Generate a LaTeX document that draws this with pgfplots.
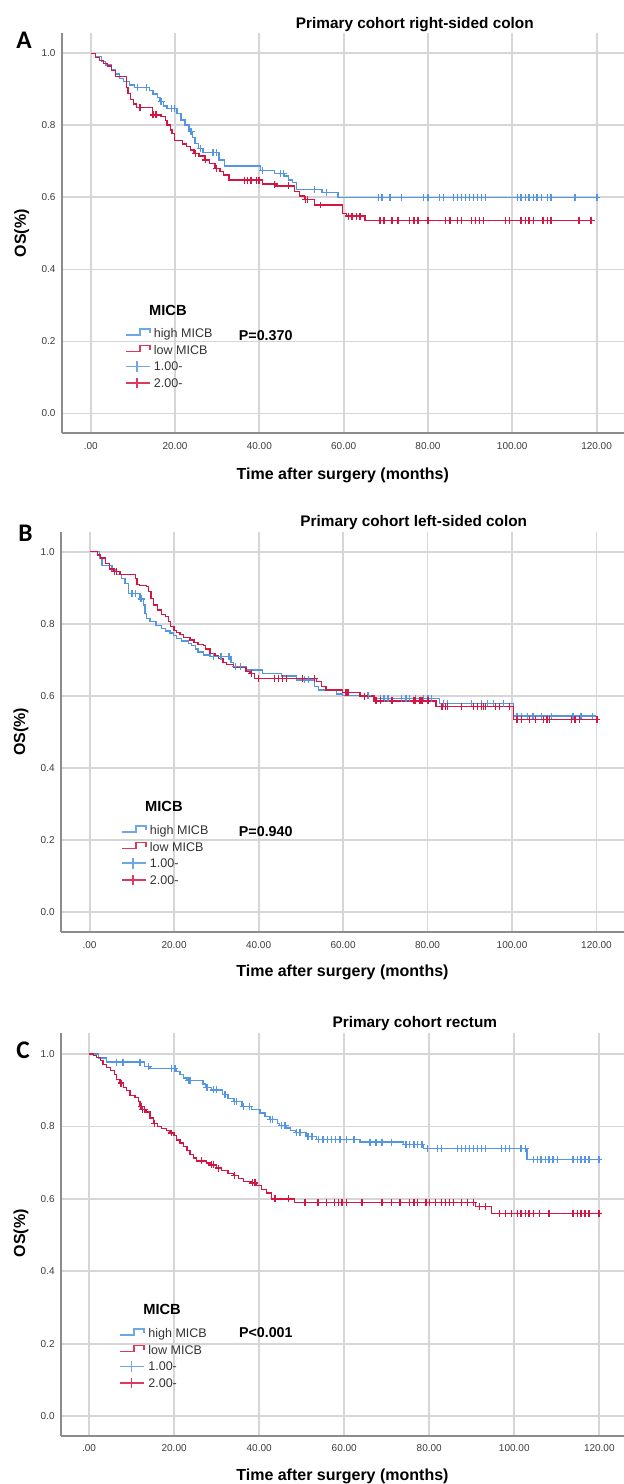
\documentclass[border=0pt]{standalone}
\usepackage{pgfplots}
\pgfplotsset{compat=1.18}
\usepackage{pgfplotstable}
\usepackage{fontspec}
\setmainfont{Liberation Sans}
\newfontfamily\carlito{Carlito}

\definecolor{kmblue}{RGB}{84,150,225}
\definecolor{kmred}{RGB}{214,22,66}
\definecolor{gridgray}{RGB}{214,214,214}
\definecolor{axisgray}{RGB}{140,140,140}
\definecolor{tickgray}{RGB}{60,60,60}

% ---------- A: right-sided colon ----------
\pgfplotstableread{
t S
0 1.000
1.13 0.991
2.55 0.977
3.49 0.968
4.91 0.954
5.85 0.943
6.80 0.931
7.74 0.921
9.16 0.912
10.4 0.906
13.9 0.896
14.8 0.887
15.8 0.878
16.4 0.866
17.3 0.854
18.1 0.847
20.5 0.833
21.4 0.815
22.4 0.801
23.3 0.783
24.1 0.767
24.7 0.750
25.5 0.736
26.6 0.724
30.4 0.704
31.8 0.687
40.3 0.674
43.6 0.667
46.0 0.659
46.9 0.648
47.9 0.641
48.8 0.622
54.9 0.613
58.7 0.600
120.1 0.600
}\Abluestep
\pgfplotstableread{
t S
11.05 0.906
13.3 0.906
16.7 0.866
19.1 0.847
19.8 0.847
23.8 0.783
26.0 0.736
29.0 0.724
29.9 0.724
40.8 0.674
45.0 0.667
45.7 0.667
53.1 0.622
55.9 0.613
68.2 0.600
69.1 0.600
71.0 0.600
73.8 0.600
79.0 0.600
80.0 0.600
82.8 0.600
83.7 0.600
86.1 0.600
87.0 0.600
88.0 0.600
88.9 0.600
89.9 0.600
90.8 0.600
91.8 0.600
92.7 0.600
93.6 0.600
101.2 0.600
102.1 0.600
103.1 0.600
104.0 0.600
105.0 0.600
105.9 0.600
106.9 0.600
108.3 0.600
109.2 0.600
114.9 0.600
120.1 0.600
}\Abluecens
\pgfplotstableread{
t S
0 1.000
1.13 0.989
2.08 0.981
3.02 0.972
3.96 0.965
4.91 0.952
5.85 0.935
8.50 0.906
8.87 0.889
9.44 0.872
10.1 0.859
10.8 0.850
14.6 0.829
16.7 0.824
17.7 0.813
18.1 0.801
18.9 0.787
19.3 0.778
19.8 0.758
21.7 0.748
22.8 0.741
23.6 0.732
24.5 0.721
25.7 0.715
27.1 0.704
28.2 0.695
29.5 0.681
30.7 0.671
31.5 0.662
32.8 0.648
40.8 0.637
43.8 0.632
48.3 0.616
49.5 0.604
50.7 0.595
53.1 0.579
59.7 0.556
60.6 0.548
65.1 0.535
118.7 0.535
}\Aredstep
\pgfplotstableread{
t S
11.7 0.850
14.8 0.829
15.5 0.829
24.8 0.721
27.3 0.704
29.9 0.681
36.5 0.648
37.2 0.648
38.0 0.648
39.4 0.648
39.9 0.648
43.6 0.637
46.9 0.632
50.9 0.595
51.4 0.595
54.5 0.579
61.1 0.548
62.0 0.548
63.0 0.548
63.9 0.548
68.6 0.535
69.6 0.535
71.5 0.535
72.9 0.535
75.7 0.535
76.7 0.535
77.6 0.535
80.0 0.535
84.2 0.535
85.2 0.535
87.0 0.535
88.0 0.535
90.3 0.535
91.3 0.535
92.2 0.535
93.2 0.535
98.4 0.535
99.3 0.535
102.1 0.535
103.1 0.535
104.0 0.535
105.0 0.535
107.3 0.535
108.3 0.535
109.2 0.535
115.8 0.535
118.7 0.535
}\Aredcens

% ---------- B: left-sided colon ----------
\pgfplotstableread{
t S
0 1.000
2.35 0.982
2.9 0.962
5.3 0.949
6.4 0.937
7.6 0.926
8.4 0.912
9.2 0.884
11.9 0.869
12.7 0.852
13.1 0.829
13.5 0.815
14.3 0.806
15.7 0.796
17.1 0.787
17.9 0.780
19.0 0.774
19.8 0.767
20.6 0.759
21.8 0.752
23.4 0.745
24.2 0.739
25.0 0.730
25.7 0.722
26.9 0.713
28.5 0.709
33.5 0.693
34.0 0.681
37.0 0.672
41.0 0.662
45.5 0.655
49.0 0.644
53.2 0.625
54.2 0.616
58.4 0.605
59.8 0.601
67.3 0.593
82.9 0.579
100.3 0.544
119.8 0.544
}\Bbluestep
\pgfplotstableread{
t S
10.0 0.884
10.8 0.884
12.2 0.869
29.3 0.709
31.1 0.709
33.0 0.709
34.5 0.681
35.8 0.681
50.8 0.644
51.8 0.644
65.9 0.601
68.8 0.593
69.7 0.593
70.6 0.593
73.9 0.593
74.9 0.593
75.8 0.593
77.2 0.593
79.1 0.593
80.1 0.593
81.0 0.593
83.8 0.579
84.8 0.579
90.4 0.579
92.8 0.579
94.2 0.579
95.6 0.579
98.0 0.579
101.2 0.544
102.2 0.544
103.6 0.544
105.0 0.544
106.9 0.544
109.3 0.544
114.4 0.544
116.3 0.544
119.1 0.544
}\Bbluecens
\pgfplotstableread{
t S
0 1.000
1.87 0.991
2.66 0.982
3.69 0.968
4.71 0.952
5.65 0.945
7.23 0.937
10.8 0.926
11.2 0.909
11.8 0.906
13.4 0.903
13.9 0.889
14.5 0.870
15.1 0.852
16.1 0.838
17.1 0.826
17.9 0.820
18.7 0.806
19.2 0.792
20.0 0.782
20.6 0.776
21.4 0.770
22.2 0.761
23.8 0.755
24.7 0.748
25.7 0.743
26.9 0.739
27.5 0.730
28.5 0.718
29.7 0.712
30.5 0.704
31.6 0.693
32.4 0.686
34.0 0.678
37.0 0.667
38.0 0.662
39.1 0.648
53.7 0.639
54.9 0.625
56.0 0.616
59.8 0.609
64.0 0.599
67.3 0.586
82.0 0.570
100.3 0.535
120.1 0.535
}\Bredstep
\pgfplotstableread{
t S
5.9 0.945
6.3 0.945
38.4 0.662
40.0 0.648
43.8 0.648
44.7 0.648
45.7 0.648
46.6 0.648
50.4 0.648
53.2 0.648
60.7 0.609
61.2 0.609
65.0 0.599
67.8 0.586
68.8 0.586
71.6 0.586
76.8 0.586
77.2 0.586
78.2 0.586
78.7 0.586
80.1 0.586
83.4 0.570
84.3 0.570
84.8 0.570
88.1 0.570
90.9 0.570
91.8 0.570
92.8 0.570
93.3 0.570
93.7 0.570
96.1 0.570
97.0 0.570
99.4 0.570
101.2 0.535
102.2 0.535
104.1 0.535
105.5 0.535
107.4 0.535
108.3 0.535
108.8 0.535
114.0 0.535
114.9 0.535
115.9 0.535
120.1 0.535
}\Bredcens

% ---------- C: rectum ----------
\pgfplotstableread{
t S
0 1.000
2.2 0.989
4.1 0.978
13.1 0.966
14.3 0.960
20.6 0.952
21.4 0.943
22.2 0.934
23.0 0.927
26.8 0.917
27.4 0.908
28.8 0.901
31.3 0.888
32.7 0.878
33.9 0.869
36.0 0.855
38.2 0.846
40.2 0.837
41.4 0.828
42.5 0.819
44.3 0.809
44.8 0.803
46.5 0.796
47.3 0.788
48.5 0.783
51.0 0.772
53.5 0.764
63.7 0.757
74.0 0.751
78.7 0.739
103.0 0.709
120.4 0.709
}\Cbluestep
\pgfplotstableread{
t S
6.5 0.978
8.0 0.978
12.0 0.978
13.9 0.966
19.4 0.960
20.2 0.960
23.4 0.927
23.7 0.927
27.7 0.908
29.2 0.901
30.0 0.901
32.0 0.888
34.2 0.869
34.7 0.869
36.3 0.855
37.8 0.855
42.7 0.819
43.2 0.819
45.2 0.803
46.1 0.803
48.8 0.783
49.6 0.783
51.5 0.772
52.4 0.772
54.0 0.764
55.0 0.764
56.0 0.764
57.0 0.764
58.0 0.764
59.0 0.764
60.5 0.764
62.3 0.764
66.1 0.757
67.5 0.757
68.9 0.757
71.2 0.757
74.5 0.751
75.4 0.751
76.4 0.751
77.3 0.751
78.3 0.751
79.6 0.739
82.0 0.739
82.9 0.739
86.7 0.739
87.6 0.739
88.6 0.739
89.5 0.739
90.4 0.739
91.4 0.739
92.3 0.739
93.2 0.739
97.0 0.739
97.9 0.739
98.9 0.739
101.6 0.739
102.6 0.739
104.5 0.709
105.4 0.709
106.3 0.709
107.3 0.709
108.2 0.709
109.1 0.709
110.1 0.709
113.8 0.709
114.8 0.709
115.7 0.709
116.6 0.709
117.6 0.709
119.9 0.709
}\Cbluecens
\pgfplotstableread{
t S
0 1.000
1.0 0.996
1.8 0.991
2.7 0.982
3.3 0.971
4.1 0.963
5.1 0.954
5.9 0.943
6.5 0.929
7.3 0.920
8.1 0.908
8.8 0.899
9.6 0.886
10.8 0.880
11.6 0.869
12.0 0.855
12.4 0.846
13.4 0.840
14.3 0.823
15.1 0.809
16.1 0.800
17.1 0.794
18.2 0.788
19.0 0.782
20.0 0.775
20.6 0.763
21.4 0.754
22.2 0.745
23.0 0.733
23.7 0.722
24.5 0.713
25.3 0.705
27.6 0.699
28.4 0.694
30.0 0.685
31.2 0.678
32.7 0.671
33.9 0.665
35.1 0.657
36.3 0.648
38.2 0.644
39.4 0.637
40.6 0.625
41.8 0.616
42.9 0.600
48.3 0.590
90.9 0.578
94.6 0.560
120.4 0.560
}\Credstep
\pgfplotstableread{
t S
7.5 0.920
12.2 0.855
12.6 0.846
13.1 0.846
15.4 0.809
19.4 0.782
26.5 0.705
28.8 0.694
29.2 0.694
30.4 0.685
34.2 0.665
38.5 0.644
39.0 0.644
43.7 0.600
46.9 0.600
50.8 0.590
53.8 0.590
55.9 0.590
57.7 0.590
58.6 0.590
59.5 0.590
60.5 0.590
64.2 0.590
68.9 0.590
71.2 0.590
73.1 0.590
75.4 0.590
76.4 0.590
77.3 0.590
79.2 0.590
80.1 0.590
81.5 0.590
82.9 0.590
83.9 0.590
84.8 0.590
85.7 0.590
87.6 0.590
89.0 0.590
90.4 0.590
91.8 0.578
93.2 0.578
96.5 0.560
97.9 0.560
99.3 0.560
100.7 0.560
101.6 0.560
102.6 0.560
103.5 0.560
104.5 0.560
105.9 0.560
108.2 0.560
113.8 0.560
114.8 0.560
115.7 0.560
116.6 0.560
117.6 0.560
119.9 0.560
}\Credcens

\pgfplotsset{
  kmaxis/.style={
    scale only axis,
    axis x line*=bottom, axis y line*=left,
    axis line style={-, draw=axisgray, line width=1.3pt},
    major tick length=0pt,
    grid=major,
    major grid style={draw=gridgray, line width=1.4pt},
    xtick={0,20,40,60,80,100,120},
    xticklabels={.00,20.00,40.00,60.00,80.00,100.00,120.00},
    ytick={0,0.2,0.4,0.6,0.8,1.0},
    yticklabels={0.0,0.2,0.4,0.6,0.8,1.0},
    every tick label/.append style={font=\fontsize{7.5}{9}\selectfont, text=tickgray, inner sep=0pt},
    every x tick label/.append style={yshift=-6.5pt},
    every y tick label/.append style={xshift=-4.5pt},
    xlabel={Time after surgery (months)},
    ylabel={OS(\%)},
    every axis label/.append style={font=\fontsize{12}{14}\bfseries\selectfont, inner sep=0pt},
    legend cell align=left,
    legend style={anchor=north west, draw=none, fill=none, inner sep=0pt, outer sep=0pt,
      row sep=0pt, column sep=2.5pt, text=black!80,
      font=\fontsize{9.4}{11}\selectfont,
      nodes={inner sep=0pt, text height=9.6pt, text depth=2.9pt}},
  },
  % step curve; #1 = colour
  kmstep/.style={const plot, no marks, line width=1pt, color=#1,
    legend image code/.code={\draw[line width=1.2pt, draw=#1!85!white] (0pt,-1.5pt) -- (10.5pt,-1.5pt) -- (10.5pt,3pt) -- (18pt,3pt) -- (18pt,0pt);}},
  % censor ticks; #1 = colour
  kmcens/.style={only marks, mark=+, mark size=2.6pt, color=#1, mark options={line width=1pt},
    legend image code/.code={\draw[line width=1.2pt, draw=#1!85!white] (0pt,0pt) -- (18pt,0pt) (8.6pt,-4pt) -- (8.6pt,4pt);}},
}

\begin{document}
\begin{tikzpicture}
\useasboundingbox (0,0) rectangle (468pt,-1113pt);

% panel letters and titles
\tikzset{panel/.style={anchor=base west, inner sep=0pt, font=\carlito\bfseries\fontsize{19}{21}\selectfont},
         ptitle/.style={anchor=base, inner sep=0pt, font=\fontsize{11.5}{13}\bfseries\selectfont}}
\node[panel] at (12pt,-36.2pt) {A};
\node[panel] at (13.5pt,-406.3pt) {B};
\node[panel] at (12pt,-793.7pt) {C};
\node[ptitle] at (311.1pt,-21.2pt) {Primary cohort right-sided colon};
\node[ptitle] at (310.35pt,-394.5pt) {Primary cohort left-sided colon};
\node[ptitle] at (311.1pt,-770.5pt) {Primary cohort rectum};

% ---- A ----
\begin{axis}[kmaxis,
  at={(46.28pt,-325pt)}, anchor=south west,
  width=421.7pt, height=300pt,
  xmin=-6.88, xmax=126.5, ymin=-0.055, ymax=1.0555,
  xlabel style={at={(axis description cs:0.5,-0.104)}, anchor=center},
  ylabel style={at={(axis description cs:-0.071,0.5)}, anchor=center},
  legend style={at={(axis cs:8.14,0.2467)}},
]
\addplot[kmstep=kmblue] table {\Abluestep}; \addlegendentry{high MICB}
\addplot[kmstep=kmred] table {\Aredstep}; \addlegendentry{low MICB}
\addplot[kmcens=kmblue] table {\Abluecens}; \addlegendentry{1.00-}
\addplot[kmcens=kmred] table {\Aredcens}; \addlegendentry{2.00-}
\node[anchor=west, inner sep=0pt, font=\fontsize{11}{13}\bfseries\selectfont] at (axis cs:13.8,0.2874) {MICB};
\node[anchor=west, inner sep=0pt, font=\fontsize{10.7}{12}\bfseries\selectfont] at (axis cs:35.1,0.215) {P=0.370};
\end{axis}

% ---- B ----
\begin{axis}[kmaxis,
  at={(45.68pt,-699.2pt)}, anchor=south west,
  width=422.3pt, height=300.45pt,
  xmin=-6.79, xmax=126.5, ymin=-0.0563, ymax=1.0555,
  xlabel style={at={(axis description cs:0.5,-0.1)}, anchor=center},
  ylabel style={at={(axis description cs:-0.071,0.5)}, anchor=center},
  legend style={at={(axis cs:7.43,0.2508)}},
]
\addplot[kmstep=kmblue] table {\Bbluestep}; \addlegendentry{high MICB}
\addplot[kmstep=kmred] table {\Bredstep}; \addlegendentry{low MICB}
\addplot[kmcens=kmblue] table {\Bbluecens}; \addlegendentry{1.00-}
\addplot[kmcens=kmred] table {\Bredcens}; \addlegendentry{2.00-}
\node[anchor=west, inner sep=0pt, font=\fontsize{11}{13}\bfseries\selectfont] at (axis cs:13.1,0.2922) {MICB};
\node[anchor=west, inner sep=0pt, font=\fontsize{10.7}{12}\bfseries\selectfont] at (axis cs:35.3,0.2229) {P=0.940};
\end{axis}

% ---- C ----
\begin{axis}[kmaxis,
  at={(45.68pt,-1076.8pt)}, anchor=south west,
  width=422.3pt, height=302pt,
  xmin=-6.63, xmax=125.8, ymin=-0.0544, ymax=1.058,
  xlabel style={at={(axis description cs:0.5,-0.1)}, anchor=center},
  ylabel style={at={(axis description cs:-0.071,0.503)}, anchor=center},
  legend style={at={(axis cs:7.13,0.2524)}},
]
\addplot[kmstep=kmblue] table {\Cbluestep}; \addlegendentry{high MICB}
\addplot[kmstep=kmred] table {\Credstep}; \addlegendentry{low MICB}
\addplot[kmcens=kmblue] table {\Cbluecens}; \addlegendentry{1.00-}
\addplot[kmcens=kmred] table {\Credcens}; \addlegendentry{2.00-}
\node[anchor=west, inner sep=0pt, font=\fontsize{11}{13}\bfseries\selectfont] at (axis cs:12.7,0.2956) {MICB};
\node[anchor=west, inner sep=0pt, font=\fontsize{10.7}{12}\bfseries\selectfont] at (axis cs:35.2,0.2293) {P<0.001};
\end{axis}
\end{tikzpicture}
\end{document}
